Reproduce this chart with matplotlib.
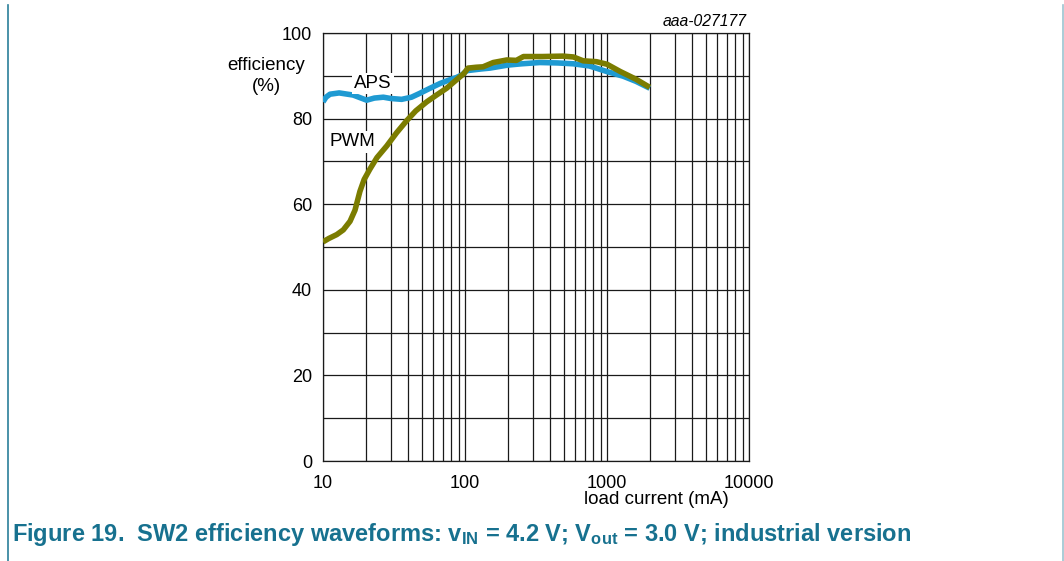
import matplotlib
matplotlib.use("Agg")
import matplotlib.pyplot as plt
from matplotlib.lines import Line2D
from matplotlib.ticker import LogLocator, NullFormatter

plt.rcParams["font.family"] = ["Liberation Sans", "DejaVu Sans"]
plt.rcParams["mathtext.fontset"] = "custom"
plt.rcParams["mathtext.bf"] = "Liberation Sans:bold"
plt.rcParams["mathtext.rm"] = "Liberation Sans:bold"
plt.rcParams["mathtext.default"] = "bf"

# APS curve (load current mA, efficiency %)
aps_current = [10, 10.5, 11.2, 13, 16.3, 20.3, 23, 26.6, 30, 35.8, 42, 48, 56,
               66.7, 77, 87, 95, 103, 130, 150, 200, 250, 337, 450, 580, 750,
               996, 1300, 1600, 2000]
aps_eff = [83.9, 85.0, 85.7, 86.0, 85.5, 84.3, 84.8, 85.0, 84.7, 84.5, 85.0,
           85.9, 87.0, 88.2, 89.0, 89.6, 90.2, 91.2, 91.6, 91.8, 92.5, 92.8,
           93.1, 93.0, 92.8, 92.3, 91.0, 89.9, 88.7, 87.1]

# PWM curve
pwm_current = [10, 11, 12.5, 13.9, 15.5, 16.8, 18.2, 19.5, 21.4, 24, 28.1, 33,
               38.8, 45, 53.7, 63, 74.3, 89.5, 98, 105, 120, 134, 158, 197,
               230, 258, 350, 490, 580, 680, 842, 1000, 1240, 1600, 2000]
pwm_eff = [51.2, 52.0, 52.9, 54.0, 56.0, 58.6, 63.0, 65.8, 68.2, 70.9, 73.6,
           76.7, 79.5, 81.8, 83.9, 85.5, 87.1, 89.4, 90.5, 91.8, 92.0, 92.1,
           93.1, 93.7, 93.6, 94.5, 94.5, 94.6, 94.4, 93.5, 93.3, 92.7, 91.0,
           89.2, 87.3]

x_ticks = [10, 100, 1000, 10000]
x_tick_labels = ["10", "100", "1000", "10000"]
y_ticks = [0, 20, 40, 60, 80, 100]

W, H = 1064, 561
fig = plt.figure(figsize=(W / 100, H / 100), dpi=100)
ax = fig.add_axes([323 / W, 1 - 461 / H, 426 / W, 428 / H])

ax.set_xscale("log")
ax.set_xlim(10, 10000)
ax.set_ylim(0, 100)

# grid
ax.xaxis.set_minor_locator(LogLocator(base=10, subs=range(2, 10)))
ax.xaxis.set_minor_formatter(NullFormatter())
ax.set_yticks(range(0, 101, 10), minor=True)
ax.grid(which="both", axis="both", color="#1a1a1a", linewidth=0.9)
ax.set_axisbelow(True)

ax.plot(aps_current, aps_eff, color="#1f9ad2", linewidth=4.0,
        solid_capstyle="butt", solid_joinstyle="round", zorder=3)
ax.plot(pwm_current, pwm_eff, color="#7b7c00", linewidth=4.0,
        solid_capstyle="butt", solid_joinstyle="round", zorder=4)

ax.set_xticks(x_ticks)
ax.set_xticklabels(x_tick_labels)
ax.set_yticks(y_ticks)
ax.tick_params(which="both", length=0, labelsize=13)
ax.tick_params(axis="y", pad=8)
ax.tick_params(axis="x", pad=10)
for s in ax.spines.values():
    s.set_linewidth(0.9)
    s.set_color("#1a1a1a")

# curve labels
ax.text(373 / W, 1 - 83.5 / H, "APS", transform=fig.transFigure, fontsize=13.5,
        ha="center", va="center", zorder=5,
        bbox=dict(facecolor="white", edgecolor="none", pad=1.5))
ax.text(352 / W, 1 - 142 / H, "PWM", transform=fig.transFigure, fontsize=13.5,
        ha="center", va="center", zorder=5,
        bbox=dict(facecolor="white", edgecolor="none", pad=1.5))

fig.text(266 / W, 1 - 76 / H, "efficiency\n(%)", fontsize=13.5,
         ha="center", va="center", linespacing=1.3)
fig.text(656 / W, 1 - 500 / H, "load current (mA)", fontsize=13.5,
         ha="center", va="center")
fig.text(747 / W, 1 - 21 / H, "aaa-027177", fontsize=11.3, style="italic",
         ha="right", va="center")

fig.text(12 / W, 1 - 534 / H,
         r"Figure 19.  SW2 efficiency waveforms: $v_{IN}$ = 4.2 V; $V_{out}$ = 3.0 V; industrial version",
         fontsize=17, fontweight="bold", color="#17718f",
         ha="left", va="center")

# page border lines
fig.add_artist(Line2D([7.5 / W, 7.5 / W], [0, 1 - 5 / H], color="#2a7f9a",
                      linewidth=1.2))
fig.add_artist(Line2D([1062.5 / W, 1062.5 / W], [0, 1 - 5 / H],
                      color="#9cc4d0", linewidth=1.2))

fig.savefig("out.png", dpi=100)
